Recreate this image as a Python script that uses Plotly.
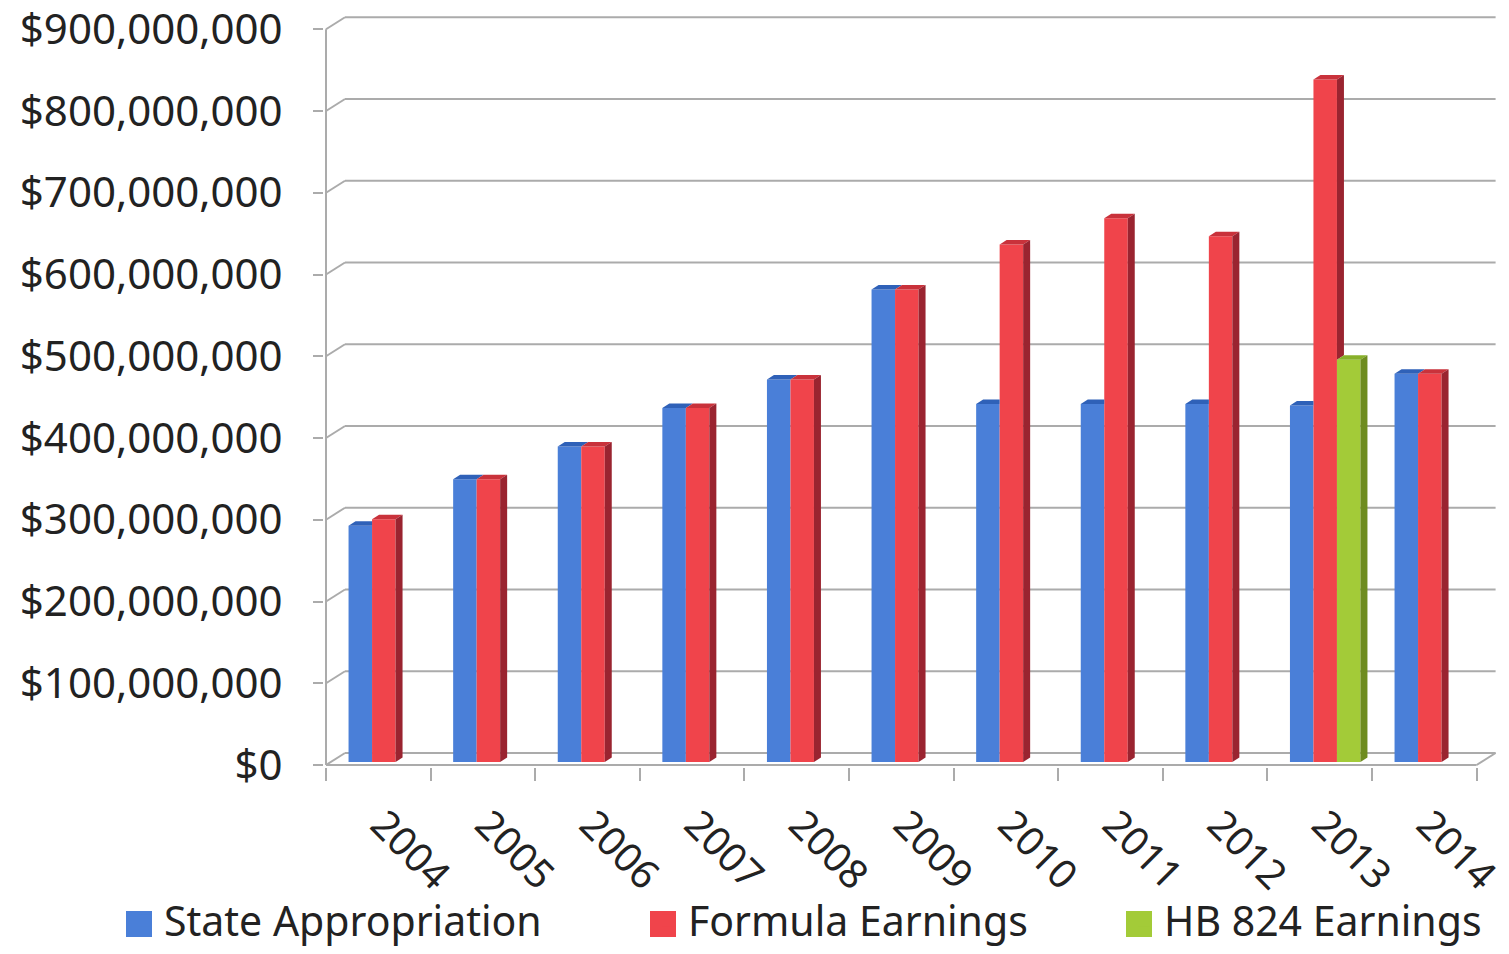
import plotly.graph_objects as go

# ---------------- data ----------------
years = [2004, 2005, 2006, 2007, 2008, 2009, 2010, 2011, 2012, 2013, 2014]
state_appropriation = [289e6, 346e6, 386e6, 433e6, 468e6, 578e6, 438e6, 438e6, 438e6, 436e6, 475e6]
formula_earnings = [297e6, 346e6, 386e6, 433e6, 468e6, 578e6, 633e6, 665e6, 643e6, 835e6, 475e6]
hb824_earnings = [None, None, None, None, None, None, None, None, None, 492e6, None]
series_names = ["State Appropriation", "Formula Earnings", "HB 824 Earnings"]
y_tick_values = [0, 100e6, 200e6, 300e6, 400e6, 500e6, 600e6, 700e6, 800e6, 900e6]
y_tick_labels = ["$0", "$100,000,000", "$200,000,000", "$300,000,000", "$400,000,000",
                 "$500,000,000", "$600,000,000", "$700,000,000", "$800,000,000", "$900,000,000"]
year_labels = [str(y) for y in years]

# ---------------- styles ----------------
front_colors = ["#4A7FD8", "#F0444B", "#A3CB38"]
top_colors = ["#2F61B8", "#C9323B", "#88B02A"]
side_colors = ["#2A549C", "#9A2430", "#6E8C20"]
grid_color = "#ABABAB"
text_color = "#222222"
font_family = "Noto Sans"

# ---------------- geometry (pixels) ----------------
W, H = 1509, 954
PX_PER_YEAR = 104.6
PX_PER_DOLLAR = 0.8175e-6
FRONT_AXIS_PX = 326
LEFT_PX = 324
RIGHT_PX = 1500
TOP_PX = 8
ZERO_PX = 765
BOTTOM_PX = 767
LEGEND_TEXT_X = [166, 690, 1166]   # left edge of each legend label, px
LEGEND_KEY_Y_PX = 924
LEGEND_KEY_PX = 26
LEGEND_KEY_GAP = 27                 # key centre to label start, px
YEAR_LABEL_SHIFT_PX = 4

plot_w = RIGHT_PX - LEFT_PX
plot_h = BOTTOM_PX - TOP_PX

x_front_left = years[0] - 0.5
x_front_right = years[-1] + 0.5
x_lo = x_front_left - (FRONT_AXIS_PX - LEFT_PX) / PX_PER_YEAR
x_hi = x_lo + plot_w / PX_PER_YEAR
y_hi = (ZERO_PX - TOP_PX) / PX_PER_DOLLAR
y_lo = -(BOTTOM_PX - ZERO_PX) / PX_PER_DOLLAR

floor_dx = 19 / PX_PER_YEAR
floor_dy = 12 / PX_PER_DOLLAR
bar_w = 23.5 / PX_PER_YEAR
bar_shift = 5.5 / PX_PER_YEAR
bar_base = 3 / PX_PER_DOLLAR
bar_dx = 7 / PX_PER_YEAR
bar_dy = 4.5 / PX_PER_DOLLAR

series = [state_appropriation, formula_earnings, hb824_earnings]
legend_ids = ["legend", "legend2", "legend3"]

fig = go.Figure()
for k, (name, vals) in enumerate(zip(series_names, series)):
    fig.add_trace(go.Bar(
        x=[y + bar_shift for y in years],
        y=vals,
        base=[bar_base] * len(years),
        width=bar_w,
        offset=(k - 1.5) * bar_w,
        name=name,
        legend=legend_ids[k],
        marker=dict(color=front_colors[k], line=dict(width=0)),
    ))

shapes = []
line_style = dict(color=grid_color, width=2)

# back wall gridlines and left wall connectors
for v in y_tick_values:
    shapes.append(dict(type="line", xref="x", yref="y", layer="below",
                       x0=x_front_left + floor_dx, x1=x_front_right + floor_dx,
                       y0=v + floor_dy, y1=v + floor_dy, line=line_style))
    shapes.append(dict(type="line", xref="x", yref="y", layer="below",
                       x0=x_front_left, x1=x_front_left + floor_dx,
                       y0=v, y1=v + floor_dy, line=line_style))
# front value axis line
shapes.append(dict(type="line", xref="x", yref="y", layer="below",
                   x0=x_front_left, x1=x_front_left, y0=0, y1=y_tick_values[-1], line=line_style))
# floor front and right edges
shapes.append(dict(type="line", xref="x", yref="y", layer="below",
                   x0=x_front_left, x1=x_front_right, y0=0, y1=0, line=line_style))
shapes.append(dict(type="line", xref="x", yref="y", layer="below",
                   x0=x_front_right, x1=x_front_right + floor_dx, y0=0, y1=floor_dy, line=line_style))

# 3-D faces of the bars (top and visible side), computed from the data
for i, yr in enumerate(years):
    for k, vals in enumerate(series):
        v = vals[i]
        if v is None:
            continue
        xl = yr + bar_shift + (k - 1.5) * bar_w
        xr = xl + bar_w
        t = bar_base + v
        nv = None
        if k + 1 < len(series) and series[k + 1][i] is not None:
            nv = bar_base + series[k + 1][i]
        # top face
        if nv is not None and nv >= t + bar_dy:
            path = (f"M{xl},{t} L{xr},{t} L{xr},{t + bar_dy} "
                    f"L{xl + bar_dx},{t + bar_dy} Z")
        else:
            path = (f"M{xl},{t} L{xr},{t} L{xr + bar_dx},{t + bar_dy} "
                    f"L{xl + bar_dx},{t + bar_dy} Z")
        shapes.append(dict(type="path", xref="x", yref="y", layer="above", path=path,
                           fillcolor=top_colors[k], line=dict(width=0)))
        # side face
        low = bar_base if nv is None else max(bar_base, nv)
        if low < t:
            path = (f"M{xr},{low} L{xr + bar_dx},{low + bar_dy} "
                    f"L{xr + bar_dx},{t + bar_dy} L{xr},{t} Z")
            shapes.append(dict(type="path", xref="x", yref="y", layer="above", path=path,
                               fillcolor=side_colors[k], line=dict(width=0)))

# larger legend keys (drawn under the native legend symbols, same colour)
def px_to_paper_x(px):
    return (px - LEFT_PX) / plot_w

def px_to_paper_y(py):
    return (BOTTOM_PX - py) / plot_h

for k in range(len(series_names)):
    cx = LEGEND_TEXT_X[k] - LEGEND_KEY_GAP
    half = LEGEND_KEY_PX / 2
    shapes.append(dict(type="rect", xref="paper", yref="paper", layer="above",
                       x0=px_to_paper_x(cx - half), x1=px_to_paper_x(cx + half),
                       y0=px_to_paper_y(LEGEND_KEY_Y_PX + half), y1=px_to_paper_y(LEGEND_KEY_Y_PX - half),
                       fillcolor=front_colors[k], line=dict(width=0)))

legend_font = dict(size=41, family=font_family, color=text_color)
legends = {}
for k, lid in enumerate(legend_ids):
    legends[lid] = dict(orientation="h", xref="container", yref="container",
                        x=(LEGEND_TEXT_X[k] - 42) / W, xanchor="left",
                        y=0, yanchor="bottom",
                        font=legend_font, itemclick=False, itemdoubleclick=False,
                        bgcolor="rgba(0,0,0,0)", borderwidth=0)

fig.update_layout(
    template="none",
    width=W, height=H,
    margin=dict(l=LEFT_PX, r=W - RIGHT_PX, t=TOP_PX, b=H - BOTTOM_PX, pad=0),
    paper_bgcolor="white", plot_bgcolor="white",
    barmode="overlay",
    shapes=shapes,
    font=dict(family=font_family, color=text_color, size=40),
    showlegend=True,
    xaxis=dict(range=[x_lo, x_hi], tickmode="array",
               tickvals=[y + YEAR_LABEL_SHIFT_PX / PX_PER_YEAR for y in years], ticktext=year_labels,
               tickangle=45, ticks="", showgrid=False, zeroline=False, showline=False,
               automargin=False, ticklabelstandoff=25, ticklabeloverflow="allow",
               tickfont=dict(size=40, family=font_family, color=text_color),
               minor=dict(tickmode="array", tickvals=[y - 0.5 for y in years] + [years[-1] + 0.5],
                          ticks="outside", ticklen=13, tickwidth=2, tickcolor=grid_color,
                          showgrid=False)),
    yaxis=dict(range=[y_lo, y_hi], tickmode="array", tickvals=y_tick_values, ticktext=y_tick_labels,
               ticks="outside", ticklen=10, tickwidth=2, tickcolor=grid_color,
               showgrid=False, zeroline=False, showline=False, automargin=False,
               ticklabelstandoff=22, ticklabeloverflow="allow",
               tickfont=dict(size=42, family=font_family, color=text_color)),
    **legends,
)

fig.write_html("out.html", config={"displayModeBar": False},
               post_script="document.body.style.margin='0';")
